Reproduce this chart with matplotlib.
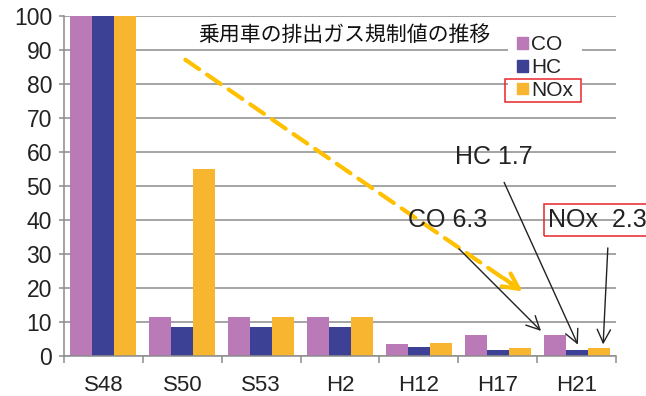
import numpy as np
import matplotlib
matplotlib.use("Agg")
import matplotlib.pyplot as plt
from matplotlib.patches import Patch, Rectangle

plt.rcParams['font.family'] = ['Liberation Sans', 'Noto Sans CJK JP', 'DejaVu Sans']

# data (relative to S48 = 100)
years = ["S48", "S50", "S53", "H2", "H12", "H17", "H21"]
co = [100, 11.4, 11.4, 11.4, 3.6, 6.3, 6.3]
hc = [100, 8.5, 8.5, 8.5, 2.7, 1.7, 1.7]
nox = [100, 55, 11.5, 11.5, 3.7, 2.3, 2.3]
series_names = ["CO", "HC", "NOx"]
title_text = "乗用車の排出ガス規制値の推移"
y_ticks = [0, 10, 20, 30, 40, 50, 60, 70, 80, 90, 100]

C_CO = "#BA7AB8"
C_HC = "#3D4196"
C_NOX = "#F8B630"
GRID = "#8C8C8C"

fig = plt.figure(figsize=(6.46, 3.96), dpi=100)
ax = fig.add_axes([64 / 646, 40 / 396, 552 / 646, 340 / 396])

x = np.arange(len(years))
w = 0.279
ax.bar(x - w, co, w, color=C_CO, zorder=2)
ax.bar(x, hc, w, color=C_HC, zorder=2)
ax.bar(x + w, nox, w, color=C_NOX, zorder=2)

ax.set_xlim(-0.5, len(years) - 0.5)
ax.set_ylim(0, 100)
ax.set_yticks(y_ticks)
ax.set_yticklabels([str(v) for v in y_ticks])
ax.set_xticks(x)
ax.set_xticklabels(years)
ax.set_xticks(np.arange(len(years) + 1) - 0.5, minor=True)

ax.yaxis.grid(True, color=GRID, lw=1.1, zorder=0)
ax.set_axisbelow(True)
for s in ["top", "right"]:
    ax.spines[s].set_visible(False)
for s in ["left", "bottom"]:
    ax.spines[s].set_color(GRID)
    ax.spines[s].set_linewidth(1.1)
    ax.spines[s].set_zorder(3)

ax.tick_params(axis="y", length=3.6, width=1.1, color=GRID, pad=5, labelsize=16.5, labelcolor="#222222")
ax.tick_params(axis="x", which="major", length=0, pad=14, labelsize=16, labelcolor="#222222")
ax.tick_params(axis="x", which="minor", length=5, width=1.1, color=GRID)

# title inside plot
ax.text(3.05, 94.4, title_text, fontsize=15, ha="center", va="center", color="#111111",
        family=['Noto Sans CJK JP', 'DejaVu Sans'])

# legend
handles = [Patch(color=C_CO), Patch(color=C_HC), Patch(color=C_NOX)]
leg = ax.legend(handles, series_names, loc="upper left", bbox_to_anchor=(508 / 646, 1 - 26 / 396),
                bbox_transform=fig.transFigure, frameon=True, fancybox=False, framealpha=1,
                edgecolor="none", facecolor="white", fontsize=15, handlelength=0.5,
                handleheight=0.5, handletextpad=0.15, labelspacing=0.18, borderpad=0.45,
                borderaxespad=0)
leg.set_zorder(4)
for t in leg.get_texts():
    t.set_color("#222222")

fig.canvas.draw()
r = fig.canvas.get_renderer()
bb_t = leg.get_texts()[2].get_window_extent(r)
bb_h = leg.legend_handles[2].get_window_extent(r)
x0 = bb_h.x0 - 12
x1 = bb_t.x1 + 8
y0 = min(bb_t.y0, bb_h.y0) - 2
y1 = max(bb_t.y1, bb_h.y1) + 2
fig.patches.append(Rectangle((x0 / 646, y0 / 396), (x1 - x0) / 646, (y1 - y0) / 396,
                             transform=fig.transFigure, fill=False, edgecolor="#E8262C",
                             lw=1.1, zorder=5))

# yellow dashed trend arrow
ax.annotate("", xy=(5.25, 20.0), xytext=(1.01, 87.6),
            arrowprops=dict(arrowstyle="-", color="#FFC000", lw=3, linestyle=(0, (4, 2.3))))
ax.annotate("", xy=(5.346, 18.5), xytext=(5.05, 23.3),
            arrowprops=dict(arrowstyle="->", color="#FFC000", lw=3, mutation_scale=28))

# value labels with arrows
ax.text(3.862, 40, "CO 6.3", fontsize=18, ha="left", va="center", color="#222222")
ax.text(4.458, 58.5, "HC 1.7", fontsize=18, ha="left", va="center", color="#222222")
ax.text(5.637, 40, "NOx  2.3", fontsize=18, ha="left", va="center", color="#222222",
        bbox=dict(boxstyle="square,pad=0.15", fc="none", ec="#E8262C", lw=1.1))

ap = dict(arrowstyle="->", color="#222222", lw=1.0, mutation_scale=24)
ax.annotate("", xy=(5.574, 6.8), xytext=(4.484, 32.1), arrowprops=ap)
ax.annotate("", xy=(6.031, 2.6), xytext=(5.067, 51.8), arrowprops=ap)
ax.annotate("", xy=(6.335, 2.6), xytext=(6.398, 32.6), arrowprops=ap)

fig.savefig("out.png", dpi=100)
